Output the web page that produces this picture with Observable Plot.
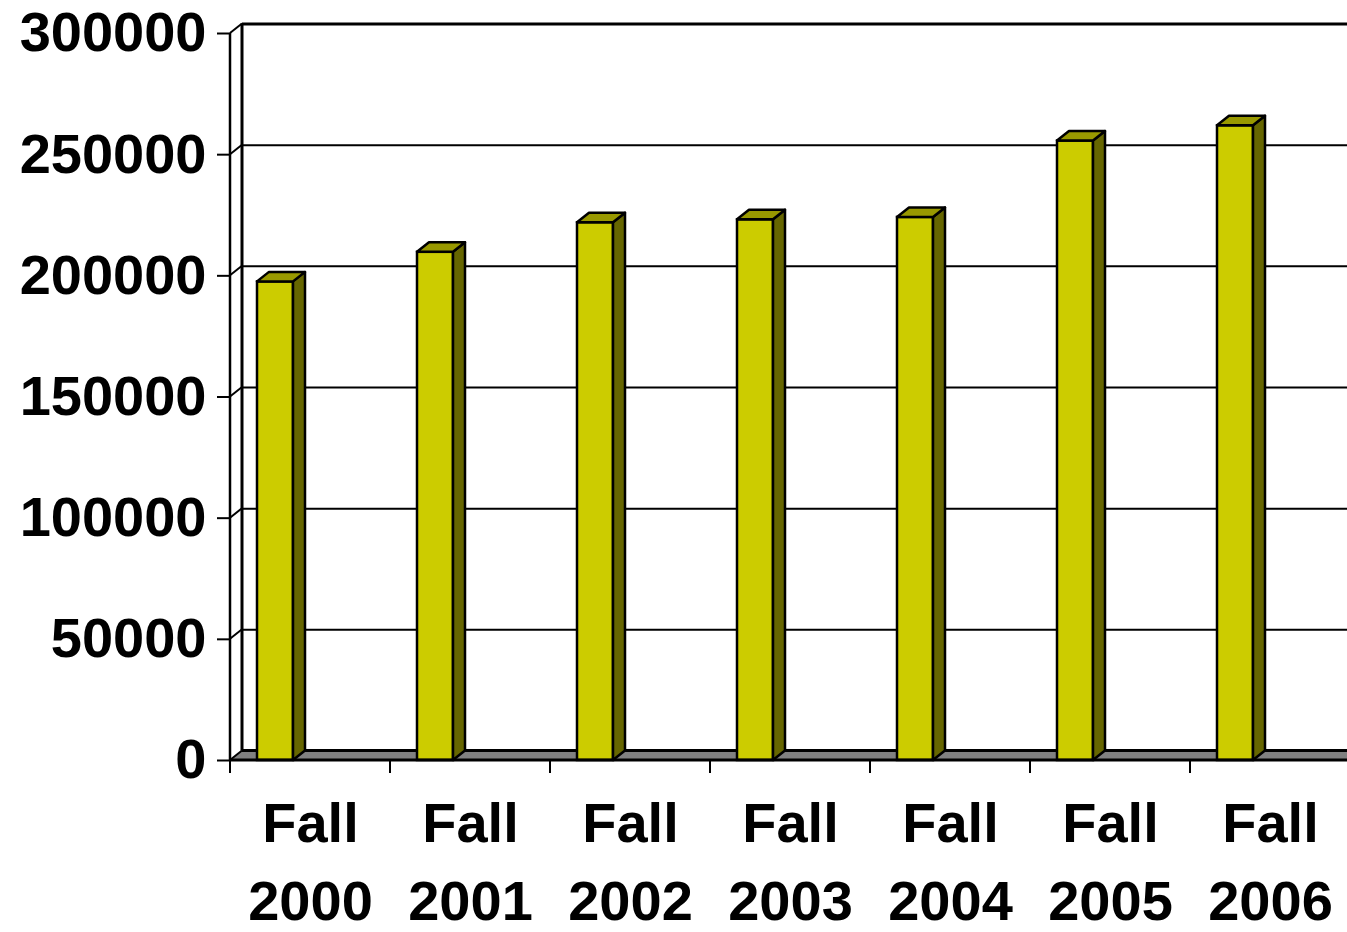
<!DOCTYPE html>
<html>
<head>
<meta charset="utf-8">
<script src="https://cdn.jsdelivr.net/npm/d3@7"></script>
<script src="https://cdn.jsdelivr.net/npm/@observablehq/plot@0.6"></script>
<style>
  html, body { margin: 0; padding: 0; background: #fff; overflow: hidden; }
  #chart svg { display: block; }
</style>
</head>
<body>
<div id="chart"></div>
<script>
// Fall enrollment by year
const categories = ["Fall 2000", "Fall 2001", "Fall 2002", "Fall 2003", "Fall 2004", "Fall 2005", "Fall 2006"];
const enrollment = [197500, 209700, 221900, 223100, 224100, 255600, 261900];
const yTicks = [0, 50000, 100000, 150000, 200000, 250000, 300000];

const data = categories.map((category, i) => ({category, value: enrollment[i]}));

// pseudo-3D depth offset (screen pixels) of the back wall and bar depth
const DX = 12, DY = -9.5;
const INSET_L = 27, BAR_W = 36;

const FRONT = "#cccc00", SIDE = "#666600", TOP = "#999900", FLOOR = "#808080";

function bandWidth(x) {
  return x.bandwidth ? x.bandwidth() : x(categories[1]) - x(categories[0]);
}

// floor slab, back-wall left edge, and diagonal connectors from the axis
function wallAndFloor(index, {x, y}, values, {width}) {
  const g = d3.create("svg:g").attr("stroke", "black").attr("stroke-linejoin", "round");
  const x0 = x(categories[0]);
  const y0 = y(0), yMax = y(300000);
  const xr = width + 20;
  g.append("path")
    .attr("d", `M${x0},${y0}L${xr},${y0}L${xr},${y0 + DY}L${x0 + DX},${y0 + DY}Z`)
    .attr("fill", FLOOR).attr("stroke", "none");
  g.append("line").attr("x1", x0 + DX).attr("x2", xr).attr("y1", y0 + DY).attr("y2", y0 + DY).attr("stroke-width", 3);
  g.append("line").attr("x1", x0 + DX).attr("x2", x0 + DX).attr("y1", yMax + DY).attr("y2", y0 + DY).attr("stroke-width", 3);
  for (const t of yTicks) {
    g.append("line").attr("x1", x0).attr("y1", y(t)).attr("x2", x0 + DX).attr("y2", y(t) + DY).attr("stroke-width", 2);
  }
  return g.node();
}

// side and top faces of each column
function barFaces(index, {x, y}) {
  const g = d3.create("svg:g").attr("stroke", "black").attr("stroke-width", 2.5).attr("stroke-linejoin", "round");
  for (const d of data) {
    const xa = x(d.category) + INSET_L, xb = xa + BAR_W;
    const yt = y(d.value), yb = y(0);
    g.append("path")
      .attr("d", `M${xb},${yb}L${xb + DX},${yb + DY}L${xb + DX},${yt + DY}L${xb},${yt}Z`)
      .attr("fill", SIDE);
    g.append("path")
      .attr("d", `M${xa},${yt}L${xa + DX},${yt + DY}L${xb + DX},${yt + DY}L${xb},${yt}Z`)
      .attr("fill", TOP);
  }
  return g.node();
}

// front floor edge, front axis and category tick marks
function frontEdges(index, {x, y}, values, {width}) {
  const g = d3.create("svg:g").attr("stroke", "black");
  const x0 = x(categories[0]);
  const y0 = y(0);
  const bw = bandWidth(x);
  g.append("line").attr("x1", x0).attr("x2", width + 20).attr("y1", y0).attr("y2", y0).attr("stroke-width", 3);
  g.append("line").attr("x1", x0).attr("x2", x0).attr("y1", y(300000)).attr("y2", y0).attr("stroke-width", 2.5);
  for (let i = 0; i <= categories.length; i++) {
    const xi = x0 + i * bw;
    g.append("line").attr("x1", xi).attr("x2", xi).attr("y1", y0).attr("y2", y0 + 13).attr("stroke-width", 2);
  }
  return g.node();
}

const chart = Plot.plot({
  width: 1347,
  height: 932,
  marginTop: 33,
  marginBottom: 172,
  marginLeft: 230,
  marginRight: 0,
  style: {fontFamily: "'Liberation Sans', Arial, sans-serif", background: "#fff", overflow: "hidden"},
  x: {type: "band", domain: categories, range: [230, 1350], padding: 0, axis: null},
  y: {domain: [0, 300000], axis: null},
  marks: [
    // back-wall gridlines (the 0 line is the back edge of the floor, 300000 the top of the wall)
    Plot.ruleY(yTicks, {dx: DX, dy: DY, stroke: "black", strokeWidth: d => (d === 300000 ? 3 : 2)}),
    wallAndFloor,
    Plot.barY(data, {x: "category", y: "value", insetLeft: INSET_L, insetRight: 160 - INSET_L - BAR_W,
      fill: FRONT, stroke: "black", strokeWidth: 2.5}),
    barFaces,
    frontEdges,
    Plot.axisY({ticks: yTicks, tickSize: 13, tickPadding: 11, tickFormat: d => String(d), label: null,
      fontSize: 56, fontWeight: "bold", fill: "black", strokeWidth: 2}),
    Plot.text(data, {x: "category", frameAnchor: "bottom", text: d => d.category.replace(" ", "\n"),
      lineAnchor: "top", lineHeight: 1.38, dy: 27, fontSize: 56, fontWeight: "bold", fill: "black"})
  ]
});

document.getElementById("chart").append(chart);
</script>
</body>
</html>
